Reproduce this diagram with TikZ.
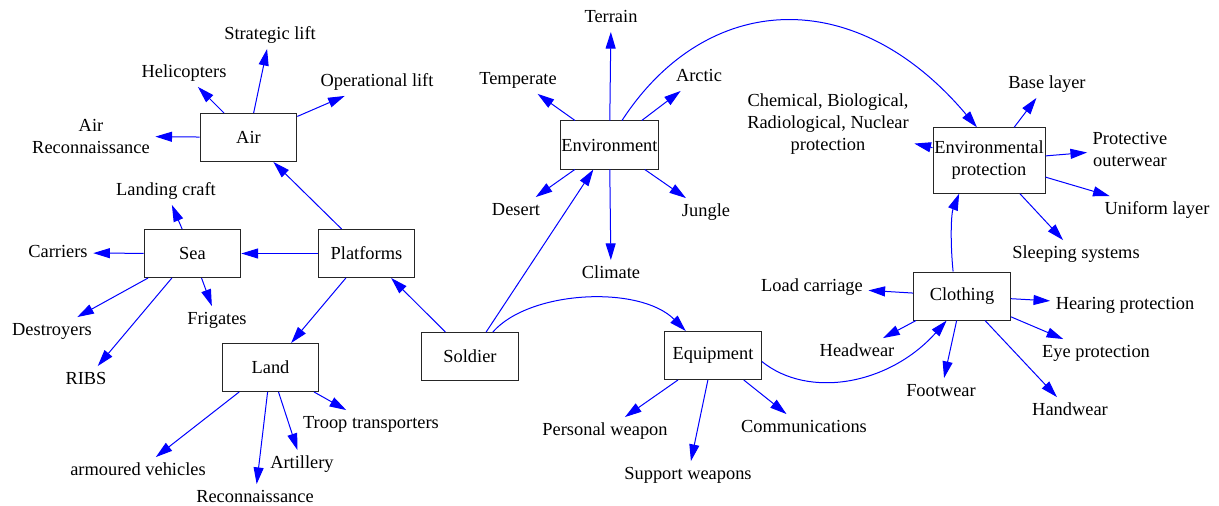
\documentclass[tikz,border=0pt]{standalone}
\usepackage{fontspec}
\setmainfont{Liberation Serif}
\usetikzlibrary{arrows.meta}
\begin{document}
\begin{tikzpicture}[x=0.75pt,y=-0.75pt,
  box/.style={draw=black!85, line width=0.75pt, minimum width=72.5pt, minimum height=36pt,
    inner sep=1pt, align=center, font=\fontsize{13.8}{16.5}\selectfont},
  leaf/.style={inner sep=4pt, yshift=-1.5pt, text height=9.5pt, text depth=3pt, font=\fontsize{13.8}{16.5}\selectfont},
  leafml/.style={inner sep=4pt, yshift=-1.5pt, align=center, font=\fontsize{13.8}{16.5}\selectfont},
  link/.style={draw=blue, line width=0.75pt, -{Triangle[length=12.5pt,width=7.5pt]}}]
\useasboundingbox (0,0) rectangle (1219,506);

% main boxes
\node[box] (air) at (248.5,137.5) {Air};
\node[box] (sea) at (192.5,253.5) {Sea};
\node[box] (platforms) at (366.5,253.5) {Platforms};
\node[box] (land) at (270.5,367.5) {Land};
\node[box] (soldier) at (470,356.5) {Soldier};
\node[box] (environment) at (609.5,145) {Environment};
\node[box] (equipment) at (713,355.5) {Equipment};
\node[box] (clothing) at (962,296) {Clothing};
\node[box, minimum width=84pt, minimum height=49pt] (envprot) at (989,160.5) {Environmental\\protection};

% leaves
\node[leaf] (strategic) at (270,33) {Strategic lift};
\node[leaf] (helicopters) at (184,71) {Helicopters};
\node[leaf] (operational) at (377,80) {Operational lift};
\node[leafml] (airrecon) at (91,134) {Air\\Reconnaissance};
\node[leaf] (landingcraft) at (166,189) {Landing craft};
\node[leaf] (carriers) at (58,251) {Carriers};
\node[leaf] (destroyers) at (52,329) {Destroyers};
\node[leaf] (ribs) at (86,378) {RIBS};
\node[leaf] (frigates) at (217,318) {Frigates};
\node[leaf] (troop) at (371,422) {Troop transporters};
\node[leaf] (armoured) at (138,469) {armoured vehicles};
\node[leaf] (artillery) at (302,462) {Artillery};
\node[leaf] (recon) at (255,496) {Reconnaissance};
\node[leaf] (terrain) at (611,16) {Terrain};
\node[leaf] (temperate) at (518,78) {Temperate};
\node[leaf] (arctic) at (699,75) {Arctic};
\node[leaf] (desert) at (516,209) {Desert};
\node[leaf] (jungle) at (706,210) {Jungle};
\node[leaf] (climate) at (611,272) {Climate};
\node[leafml] (cbrn) at (828,122) {Chemical, Biological,\\Radiological, Nuclear\\protection};
\node[leaf] (baselayer) at (1047,82) {Base layer};
\node[leafml] (outerwear) at (1130,147) {Protective\\outerwear};
\node[leaf] (uniform) at (1157,208) {Uniform layer};
\node[leaf] (sleeping) at (1076,252) {Sleeping systems};
\node[leaf] (loadcarriage) at (812,285) {Load carriage};
\node[leaf] (hearing) at (1125,303) {Hearing protection};
\node[leaf] (headwear) at (857,350) {Headwear};
\node[leaf] (eye) at (1096,351) {Eye protection};
\node[leaf] (footwear) at (941,390) {Footwear};
\node[leaf] (handwear) at (1070,409) {Handwear};
\node[leaf] (personal) at (605,429) {Personal weapon};
\node[leaf] (support) at (688,473) {Support weapons};
\node[leaf] (comms) at (804,426) {Communications};

% straight connectors
\foreach \a/\b in {air/strategic, air/helicopters, air/operational, air/airrecon,
  platforms/air, platforms/sea, platforms/land,
  sea/landingcraft, sea/carriers, sea/destroyers, sea/ribs, sea/frigates,
  land/armoured, land/recon, land/artillery, land/troop,
  soldier/platforms, soldier/environment,
  environment/terrain, environment/temperate, environment/arctic,
  environment/desert, environment/jungle, environment/climate,
  envprot/cbrn, envprot/baselayer, envprot/outerwear, envprot/uniform, envprot/sleeping,
  clothing/loadcarriage, clothing/hearing, clothing/headwear, clothing/eye,
  clothing/footwear, clothing/handwear,
  equipment/personal, equipment/support, equipment/comms}
  \draw[link] (\a) -- (\b);

% curved connectors
\draw[link] (soldier.47) .. controls +(37,-42) and +(-46,-46) .. (equipment.138);
\draw[link] (environment.63) .. controls +(84,-129) and +(-122,-145) .. (envprot.110);
\draw[link] (clothing.110) .. controls +(-3,-30) and +(-8,20) .. (envprot.-132);
\draw[link] (equipment.-7) .. controls +(47,38) and +(-57,64) .. (clothing.-122);
\end{tikzpicture}
\end{document}
